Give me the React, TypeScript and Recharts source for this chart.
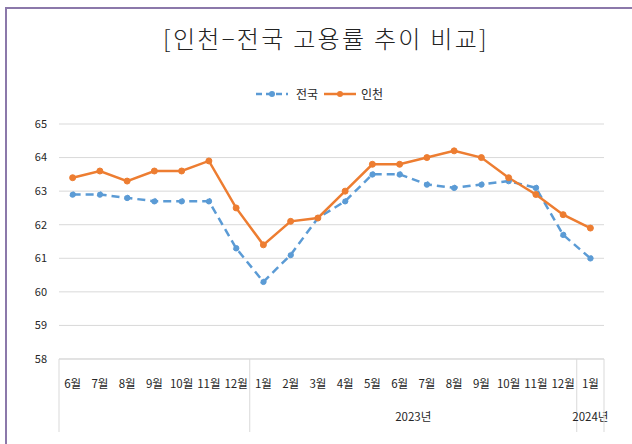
import React from 'react';
import { LineChart, Line, XAxis, YAxis, CartesianGrid } from 'recharts';

const months = ['6월', '7월', '8월', '9월', '10월', '11월', '12월', '1월', '2월', '3월', '4월', '5월', '6월', '7월', '8월', '9월', '10월', '11월', '12월', '1월'];
const nationalRate = [62.9, 62.9, 62.8, 62.7, 62.7, 62.7, 61.3, 60.3, 61.1, 62.2, 62.7, 63.5, 63.5, 63.2, 63.1, 63.2, 63.3, 63.1, 61.7, 61.0];
const incheonRate = [63.4, 63.6, 63.3, 63.6, 63.6, 63.9, 62.5, 61.4, 62.1, 62.2, 63.0, 63.8, 63.8, 64.0, 64.2, 64.0, 63.4, 62.9, 62.3, 61.9];
const yearGroups = [
  { label: '', start: 0, end: 6 },
  { label: '2023년', start: 7, end: 18 },
  { label: '2024년', start: 19, end: 19 },
];
const yTicks = [58, 59, 60, 61, 62, 63, 64, 65];
const titleText = '[인천−전국 고용률 추이 비교]';
const seriesNames = { national: '전국', incheon: '인천' };

const BLUE = '#5B9BD5';
const ORANGE = '#ED7D31';
const GRID = '#D9D9D9';
const FONT = '"Noto Sans CJK KR", "Noto Sans", sans-serif';

const CHART_W = 632;
const Y_AXIS_W = 59;
const RIGHT_M = 28;
const HALF_BAND = (CHART_W - Y_AXIS_W - RIGHT_M) / months.length / 2;

const data = months.map((m, i) => ({ month: m, national: nationalRate[i], incheon: incheonRate[i] }));

const MonthTick = (props: any) => {
  const { x, y, payload, index } = props;
  const half = HALF_BAND;
  const cx = payload && typeof payload.coordinate === 'number' ? payload.coordinate : x;
  const els: any[] = [];
  els.push(
    <text key="m" x={cx} y={y + 24} textAnchor="middle" dominantBaseline="central" fontSize={11.5} fill="#262626" fontFamily={FONT}>
      {payload.value}
    </text>
  );
  yearGroups.forEach((g, gi) => {
    if (g.start === index) {
      const left = cx - half;
      els.push(<line key={'s' + gi} x1={left} x2={left} y1={y} y2={y + 73} stroke={GRID} strokeWidth={1} />);
      if (g.label) {
        const center = left + (g.end - g.start + 1) * half;
        els.push(
          <text key={'y' + gi} x={center} y={y + 57} textAnchor="middle" dominantBaseline="central" fontSize={11.5} fill="#262626" fontFamily={FONT}>
            {g.label}
          </text>
        );
      }
    }
  });
  if (index === months.length - 1) {
    els.push(<line key="r" x1={cx + half} x2={cx + half} y1={y} y2={y + 73} stroke={GRID} strokeWidth={1} />);
  }
  return <g>{els}</g>;
};

const LegendIcon = ({ color, dashed }: { color: string; dashed: boolean }) => (
  <svg width={34} height={10} style={{ display: 'block' }}>
    <line x1={1} x2={33} y1={5} y2={5} stroke={color} strokeWidth={2.5} strokeDasharray={dashed ? '6 4' : undefined} />
    <circle cx={17} cy={5} r={3} fill={color} />
  </svg>
);

export default function App() {
  return (
    <div style={{ position: 'absolute', left: 0, top: 0, width: 632, height: 444, overflow: 'hidden', background: '#fff' }}>
      <div style={{ position: 'absolute', left: 5, top: 7, width: 700, height: 500, borderLeft: '2px solid #8B78AA', borderTop: '2px solid #8B78AA' }} />
      <div style={{ position: 'absolute', left: 0, top: 21, width: 652, textAlign: 'center', fontFamily: FONT, fontSize: 24, fontWeight: 300, letterSpacing: 2.3, color: '#222', lineHeight: '34px', whiteSpace: 'nowrap' }}>
        {titleText}
      </div>
      <div style={{ position: 'absolute', left: 0, top: 86, width: 638, display: 'flex', justifyContent: 'center', alignItems: 'center', fontFamily: FONT, fontSize: 12, color: '#262626', lineHeight: '16px' }}>
        <LegendIcon color={BLUE} dashed={true} />
        <span style={{ marginLeft: 7, marginRight: 5 }}>{seriesNames.national}</span>
        <LegendIcon color={ORANGE} dashed={false} />
        <span style={{ marginLeft: 4 }}>{seriesNames.incheon}</span>
      </div>
      <div style={{ position: 'absolute', left: 0, top: 0 }}>
        <LineChart width={CHART_W} height={444} data={data} margin={{ top: 124, right: RIGHT_M, bottom: 0, left: 0 }}>
          <CartesianGrid vertical={false} stroke={GRID} strokeWidth={1} />
          <XAxis dataKey="month" padding={{ left: HALF_BAND, right: HALF_BAND }} height={85} tickLine={false} tickSize={0} tickMargin={0} axisLine={{ stroke: GRID }} interval={0} tick={<MonthTick />} />
          <YAxis width={Y_AXIS_W} domain={[58, 65]} ticks={yTicks} tickLine={false} axisLine={false} tickMargin={6} tick={{ fontSize: 11, fill: '#262626', fontFamily: FONT }} />
          <Line type="linear" dataKey="national" name={seriesNames.national} stroke={BLUE} strokeWidth={2.5} strokeDasharray="8 5" dot={{ r: 2.8, fill: BLUE, stroke: BLUE, strokeWidth: 1 }} isAnimationActive={false} />
          <Line type="linear" dataKey="incheon" name={seriesNames.incheon} stroke={ORANGE} strokeWidth={2.5} dot={{ r: 3, fill: ORANGE, stroke: ORANGE, strokeWidth: 1 }} isAnimationActive={false} />
        </LineChart>
      </div>
    </div>
  );
}
